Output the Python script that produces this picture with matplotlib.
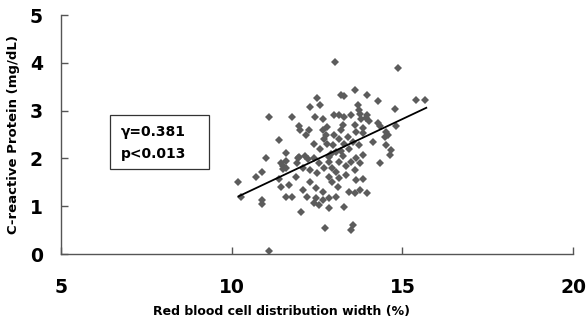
import matplotlib
matplotlib.use("Agg")
import matplotlib.pyplot as plt
from matplotlib.patches import Rectangle

rdw = [13.04, 14.87, 15.41, 15.66, 13.60, 13.20, 13.30, 13.97, 12.49, 14.29,
       12.29, 12.59, 13.70, 13.74, 14.77, 11.10, 11.78, 12.44, 12.68, 13.00,
       13.15, 13.30, 13.50, 13.75, 13.80, 13.97, 13.92, 14.02, 14.28, 14.33,
       14.82, 11.98, 12.00, 12.26, 12.18, 12.68, 12.76, 12.79, 13.20, 13.65,
       13.84, 14.48, 14.58, 14.53, 11.39, 13.84, 14.14, 14.53, 14.68, 14.63,
       14.33, 13.15, 13.30, 13.45, 13.20, 12.97, 13.06, 13.74, 13.85, 13.40,
       13.55, 11.59, 11.00, 11.44, 11.50, 11.60, 11.50, 11.60, 10.90, 10.70,
       10.20, 11.39, 11.44, 11.69, 11.59, 11.78, 11.88, 11.90, 11.93, 10.88,
       10.90, 10.28, 11.97, 12.15, 12.25, 12.40, 12.56, 12.85, 12.85, 13.15,
       13.35, 13.50, 13.65, 13.75, 12.10, 12.50, 12.30, 13.06, 13.15, 12.85,
       12.95, 13.35, 13.65, 13.85, 13.75, 13.45, 12.10, 12.47, 12.68, 12.47,
       12.67, 12.86, 13.06, 12.42, 12.57, 12.86, 13.30, 12.03, 12.72, 13.55,
       13.50, 11.10, 13.60, 13.97, 12.70, 12.60, 12.80, 13.00, 12.40, 12.90,
       13.60, 13.25, 12.30, 13.10, 12.20, 12.95, 13.60, 12.70, 13.25]
crp = [4.01, 3.89, 3.22, 3.22, 3.43, 3.33, 3.31, 3.33, 3.27, 3.20,
       3.08, 3.11, 3.12, 3.02, 3.03, 2.87, 2.87, 2.87, 2.82, 2.90,
       2.90, 2.87, 2.90, 2.93, 2.83, 2.91, 2.84, 2.79, 2.74, 2.67,
       2.67, 2.68, 2.60, 2.60, 2.49, 2.60, 2.49, 2.65, 2.60, 2.56,
       2.63, 2.46, 2.49, 2.56, 2.39, 2.53, 2.35, 2.28, 2.18, 2.07,
       1.90, 2.40, 2.30, 2.20, 2.15, 2.28, 2.14, 2.28, 2.07, 2.45,
       2.35, 2.11, 2.00, 1.90, 1.85, 1.95, 1.78, 1.80, 1.72, 1.62,
       1.50, 1.58, 1.41, 1.44, 1.20, 1.20, 1.62, 1.90, 2.00, 1.13,
       1.04, 1.20, 2.03, 2.05, 1.98, 2.00, 1.90, 2.03, 1.93, 1.93,
       1.85, 1.92, 2.00, 1.90, 1.80, 1.70, 1.75, 1.72, 1.60, 1.62,
       1.50, 1.65, 1.55, 1.58, 1.35, 1.30, 1.35, 1.38, 1.30, 1.17,
       1.13, 1.17, 1.20, 1.06, 1.03, 0.96, 0.99, 0.89, 0.54, 0.61,
       0.50, 0.07, 1.28, 1.27, 2.40, 2.20, 2.30, 2.50, 2.30, 2.10,
       2.70, 2.70, 1.50, 1.40, 1.20, 1.80, 1.75, 1.80, 2.05]

fit_slope = 0.337
fit_intercept = -2.23
fit_range = [10.2, 15.7]

x_ticks = [5, 10, 15, 20]
y_ticks = [0, 1, 2, 3, 4, 5]
stat_lines = ["\u03b3=0.381", "p<0.013"]

fig = plt.figure(figsize=(5.86, 3.22), dpi=100)
ax = fig.add_axes([0.104, 0.211, 0.874, 0.742])
ax.plot(rdw, crp, linestyle="none", marker="D", markersize=3.8,
        color="#5c5c5c", markeredgewidth=0)
fx = fit_range
fy = [fit_slope * v + fit_intercept for v in fx]
ax.plot(fx, fy, color="black", lw=1.3)

ax.set_xlim(5, 20)
ax.set_ylim(0, 5)
ax.set_xticks(x_ticks)
ax.set_yticks(y_ticks)
for s in ["top", "right"]:
    ax.spines[s].set_visible(False)
for s in ["left", "bottom"]:
    ax.spines[s].set_color("#555555")
    ax.spines[s].set_linewidth(1.0)
ax.tick_params(axis="both", direction="in", length=5, width=1, color="#555555")
ax.tick_params(axis="x", pad=17, labelsize=13.5)
ax.tick_params(axis="y", pad=13, labelsize=13.5)
for lab in ax.get_xticklabels() + ax.get_yticklabels():
    lab.set_fontweight("bold")

ax.set_xlabel("Red blood cell distribution width (%)", fontsize=9,
              fontweight="bold")
ax.xaxis.set_label_coords((281 - 61) / 512, -0.215)
ax.set_ylabel("C-reactive Protein (mg/dL)", fontsize=9.5,
              fontweight="bold")
ax.yaxis.set_label_coords(-0.08, 0.5)

ax.add_patch(Rectangle((6.44, 1.78), 2.91, 1.12, fill=False,
                       edgecolor="#333333", lw=0.9))
ax.text(6.75, 2.56, stat_lines[0], fontsize=10, fontweight="bold", va="center")
ax.text(6.75, 2.09, stat_lines[1], fontsize=10, fontweight="bold", va="center")

fig.savefig("out.png", dpi=100)
